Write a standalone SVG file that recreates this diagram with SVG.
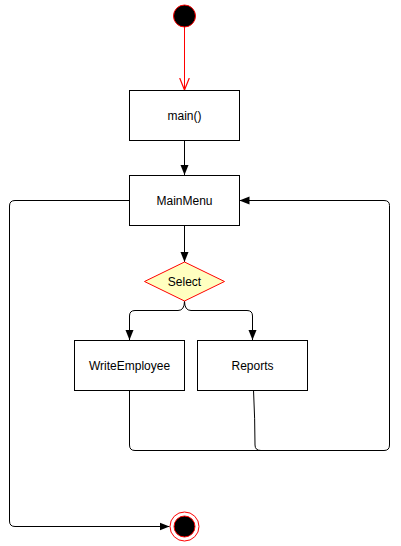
<svg xmlns="http://www.w3.org/2000/svg" width="401" height="546" viewBox="0 0 401 546">
<style>
.box{fill:#fff;stroke:#000;stroke-width:1}
.lbl{font-family:"Liberation Sans",Arial,sans-serif;font-size:12px;fill:#000;text-anchor:middle;dominant-baseline:central}
.edge{fill:none;stroke:#000;stroke-width:1}
</style>
<defs>
<marker id="ah" viewBox="0 0 10 10" refX="10" refY="5" markerWidth="10" markerHeight="10" markerUnits="userSpaceOnUse" orient="auto">
<path d="M0,1 L10,5 L0,9 Z" fill="#000"/>
</marker>
<marker id="open" viewBox="0 0 10 10" refX="10" refY="5" markerWidth="12" markerHeight="12" markerUnits="userSpaceOnUse" orient="auto">
<path d="M0,1 L10,5 L0,9" fill="none" stroke="#f00" stroke-width="1"/>
</marker>
</defs>
<rect width="401" height="546" fill="#fff"/>
<g id="connectors">
<path d="M184.5,27 V90" fill="none" stroke="#f00" marker-end="url(#open)"/>
<path class="edge" d="M184.5,140 V175" marker-end="url(#ah)"/>
<path class="edge" d="M184.5,225 V262" marker-end="url(#ah)"/>
<path class="edge" d="M184.5,301 Q184.5,310.5 178,310.5 H135 Q129.5,310.5 129.5,316 V340" marker-end="url(#ah)"/>
<path class="edge" d="M184.5,301 Q184.5,310.5 191,310.5 H247 Q252.5,310.5 252.5,316 V340" marker-end="url(#ah)"/>
<path class="edge" d="M129.5,390 V445 Q129.5,450.5 135,450.5 H384 Q389.5,450.5 389.5,445 V205.5 Q389.5,200.5 384,200.5 H239.5" marker-end="url(#ah)"/>
<path class="edge" d="M253.5,390 Q255,420 255,445 Q255,450.5 261,450.5"/>
<path class="edge" d="M130,200.5 H15 Q9.5,200.5 9.5,206 V521 Q9.5,526.5 15,526.5 H169.5" marker-end="url(#ah)"/>
</g>
<g id="start"><circle cx="184.5" cy="16" r="11" fill="#000" stroke="#f00" stroke-width="1"/></g>
<g id="main"><rect class="box" x="129.5" y="90.5" width="110" height="50"/><text class="lbl" x="184.5" y="115.5">main()</text></g>
<g id="mainmenu"><rect class="box" x="129.5" y="175.5" width="110" height="50"/><text class="lbl" x="184.5" y="200.5">MainMenu</text></g>
<g id="select"><path d="M184.5,262 L224.5,281.5 L184.5,301 L144.5,281.5 Z" fill="#ffffc0" stroke="#f00" stroke-width="1"/><text class="lbl" x="184.5" y="281.5">Select</text></g>
<g id="writeemployee"><rect class="box" x="74.5" y="340.5" width="110" height="50"/><text class="lbl" x="129.5" y="365.5">WriteEmployee</text></g>
<g id="reports"><rect class="box" x="197.5" y="340.5" width="110" height="50"/><text class="lbl" x="252.5" y="365.5">Reports</text></g>
<g id="end"><circle cx="184.5" cy="526.5" r="14.5" fill="#fff" stroke="#f00" stroke-width="1"/><circle cx="184.5" cy="526.5" r="10.5" fill="#000" stroke="#f00" stroke-width="1"/></g>
</svg>
